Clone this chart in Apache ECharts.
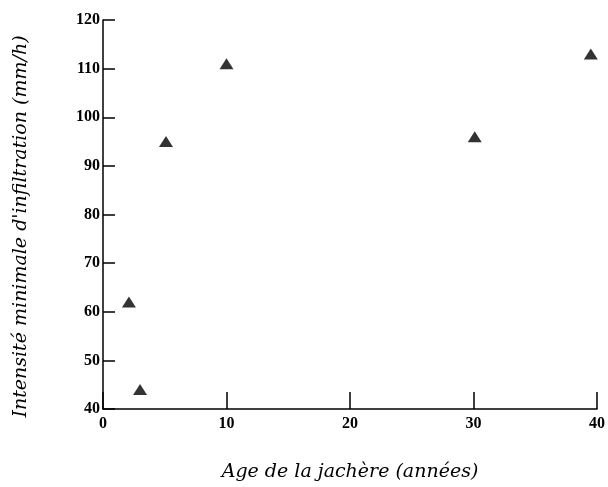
<!DOCTYPE html>
<html>
<head>
<meta charset="utf-8">
<script src="https://cdn.jsdelivr.net/npm/echarts@6/dist/echarts.min.js"></script>
<style>html,body{margin:0;padding:0;background:#fff}#c{width:608px;height:487px}</style>
</head>
<body>
<div id="c"></div>
<script>
const ageYears = [2.1, 3.0, 5.1, 10.0, 30.1, 39.5];
const infiltration = [62, 44, 95, 111, 96, 113];
const xTitle = "Age de la jachère (années)";
const yTitle = "Intensité minimale d'infiltration (mm/h)";

const chart = echarts.init(document.getElementById('c'), null, {renderer: 'canvas'});
const pts = ageYears.map((x, i) => [x, infiltration[i]]);
chart.setOption({
  animation: false,
  backgroundColor: '#fff',
  grid: {left: 103, right: 10, top: 20, bottom: 75, containLabel: false},
  xAxis: {
    type: 'value', min: 0, max: 40, interval: 10,
    name: xTitle, nameLocation: 'middle', nameGap: 54,
    nameTextStyle: {fontFamily: 'DejaVu Serif', fontStyle: 'italic', fontSize: 19, color: '#000'},
    axisLine: {lineStyle: {color: '#000', width: 1.5}},
    axisTick: {inside: true, length: 17, lineStyle: {color: '#000', width: 1.5}},
    axisLabel: {fontFamily: 'Liberation Serif', fontWeight: 'bold', fontSize: 16, color: '#000', margin: 7},
    splitLine: {show: false}
  },
  yAxis: {
    type: 'value', min: 40, max: 120, interval: 10,
    name: yTitle, nameLocation: 'middle', nameGap: 72, nameRotate: 90,
    nameTextStyle: {fontFamily: 'DejaVu Serif', fontStyle: 'italic', fontSize: 19, color: '#000', padding: [0, 24, 0, 0]},
    axisLine: {lineStyle: {color: '#000', width: 1.5}},
    axisTick: {inside: true, length: 12, lineStyle: {color: '#000', width: 1.5}},
    axisLabel: {fontFamily: 'Liberation Serif', fontWeight: 'bold', fontSize: 16, color: '#000', margin: 3},
    splitLine: {show: false}
  },
  series: [{
    type: 'scatter',
    data: pts,
    symbol: 'triangle',
    symbolSize: [14, 11],
    itemStyle: {color: '#000'}
  }]
});
</script>
</body>
</html>
